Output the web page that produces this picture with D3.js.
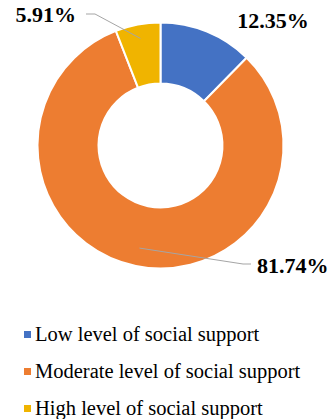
<!DOCTYPE html>
<html>
<head>
<meta charset="utf-8">
<script src="https://cdn.jsdelivr.net/npm/d3@7"></script>
<style>body { margin: 0; }</style>
</head>
<body>
<svg id="chart" width="330" height="419"></svg>
<script>
const categories = ["Low level of social support", "Moderate level of social support", "High level of social support"];
const values = [12.35, 81.74, 5.91];
const labels = ["12.35%", "81.74%", "5.91%"];
const colors = ["#4472c4", "#ed7d31", "#f0b400"];

const cx = 160.5, cy = 145.5;
const outerR = 123, innerR = 62;
const fontFam = "'Liberation Serif', monospace";

const svg = d3.select("#chart");

const pie = d3.pie().sort(null).value(d => d);
const arcs = pie(values);
const arc = d3.arc().innerRadius(innerR).outerRadius(outerR);

const g = svg.append("g").attr("transform", `translate(${cx}, ${cy})`);

g.selectAll("path")
    .data(arcs)
    .join("path")
    .attr("d", arc)
    .attr("fill", (d, i) => colors[i])
    .attr("stroke", "#fff")
    .attr("stroke-width", 2);

// leader lines (start point inside slice, elbow, end near label)
const leaders = [
    null,
    { inner: 0.7, elbow: [243, 264], end: [251, 264] },
    { inner: 0.77, elbow: [95, 14], end: [86, 14] }
];
const labelPos = [
    { x: 273, y: 28, anchor: "middle" },
    { x: 257, y: 273, anchor: "start" },
    { x: 76, y: 22, anchor: "end" }
];

arcs.forEach((d, i) => {
    const l = leaders[i];
    if (!l) return;
    const mid = (d.startAngle + d.endAngle) / 2;
    const r = innerR + (outerR - innerR) * l.inner;
    const sx = cx + r * Math.sin(mid);
    const sy = cy - r * Math.cos(mid);
    svg.append("polyline")
        .attr("points", [[sx, sy], l.elbow, l.end].map(p => p.join(",")).join(" "))
        .attr("fill", "none")
        .attr("stroke", "#a5a5a5")
        .attr("stroke-width", 1);
});

svg.selectAll("text.val")
    .data(labels)
    .join("text")
    .attr("class", "val")
    .attr("x", (d, i) => labelPos[i].x)
    .attr("y", (d, i) => labelPos[i].y)
    .attr("text-anchor", (d, i) => labelPos[i].anchor)
    .attr("font-family", fontFam)
    .attr("font-weight", "bold")
    .style("font-size", "22px")
    .text(d => d);

// legend
const legendY = d3.scalePoint().domain(categories).range([341, 415]);
const items = svg.selectAll("g.item")
    .data(categories)
    .join("g")
    .attr("class", "item")
    .attr("transform", d => `translate(24, ${legendY(d)})`);

items.append("rect")
    .attr("x", 0)
    .attr("y", -10)
    .attr("width", 7)
    .attr("height", 7)
    .attr("fill", (d, i) => colors[i]);

items.append("text")
    .attr("x", 11)
    .attr("y", 0)
    .attr("font-family", fontFam)
    .style("font-size", "20.5px")
    .text(d => d);
</script>
</body>
</html>
